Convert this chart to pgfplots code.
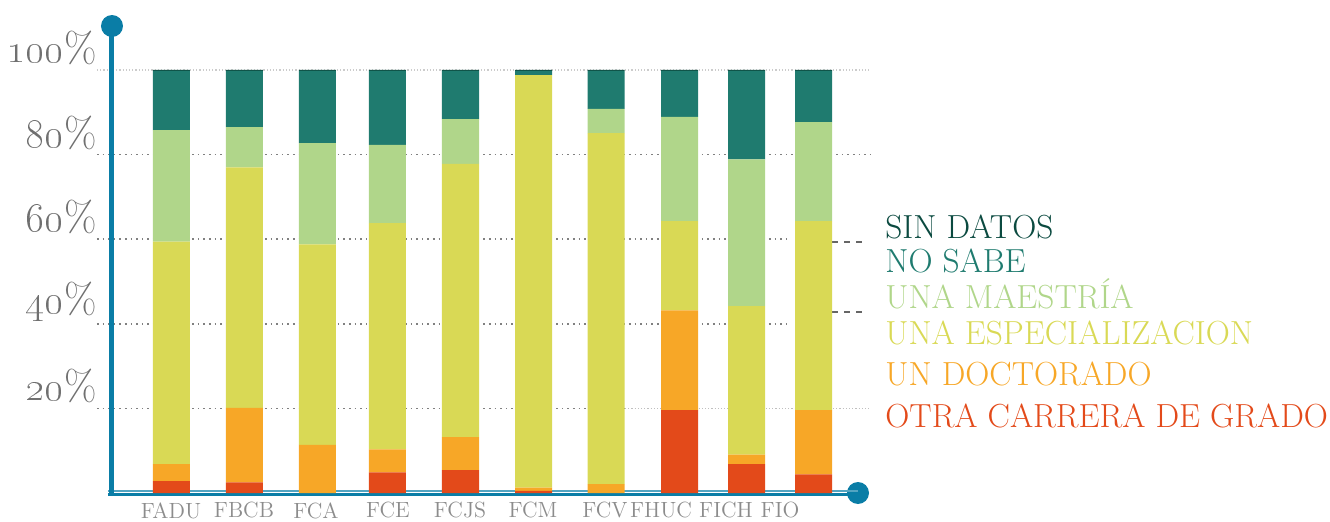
\documentclass[border=0pt]{standalone}
\usepackage{pgfplots}
\pgfplotsset{compat=1.18}
\usepackage{pgfplotstable}

\definecolor{sd}{HTML}{0E4F44}
\definecolor{ns}{HTML}{1F7B6F}
\definecolor{ma}{HTML}{B0D68A}
\definecolor{es}{HTML}{D9D955}
\definecolor{dc}{HTML}{F7A727}
\definecolor{oc}{HTML}{E34A1A}
\definecolor{ax}{HTML}{0A7DA6}
\definecolor{sdtxt}{HTML}{0B4A40}
\definecolor{ylab}{HTML}{707070}
\definecolor{xlab}{HTML}{8C8C8C}

% x = bar centre in pixels, values in percent
\pgfplotstableread{
x     otra  doc   esp   mae   ns    sd
171.5 2.8   4.0   52.6  26.4  14.0  0.2
244.5 2.5   17.6  56.9  9.5   13.3  0.2
317.5 0.0   11.4  47.4  23.9  17.1  0.2
387.5 4.9   5.4   53.5  18.5  17.5  0.2
460.5 5.4   7.8   64.6  10.6  11.4  0.2
533.5 0.5   0.8   97.5  0.0   1.0   0.2
606.0 0.0   2.1   83.0  5.7   9.0   0.2
679.5 19.6  23.6  21.1  24.6  10.9  0.2
746.5 6.8   2.3   35.1  34.7  20.9  0.2
813.5 4.4   15.2  44.7  23.4  12.1  0.2
}\datatable

\tikzset{leg/.style={anchor=base west, inner sep=0pt, font=\fontsize{16.7}{16.7}\selectfont}}
\pgfplotsset{frame/.style={x=0.5pt, y=2.115pt, xmin=97, xmax=870, ymin=0, ymax=100, clip=false}}

\begin{document}
\begin{tikzpicture}
% background axis: grid lines only
\begin{axis}[frame, hide axis]
\addplot[draw=none, forget plot] coordinates {(97,0) (870,100)};
\draw[gray!40, densely dotted, line width=0.6pt] (axis cs:97,100) -- (axis cs:870,100);
\draw[gray, dotted, line width=0.8pt] (axis cs:97,80) -- (axis cs:870,80);
\draw[gray, dotted, line width=0.8pt] (axis cs:97,60) -- (axis cs:790,60);
\draw[gray, dotted, line width=0.8pt] (axis cs:97,40) -- (axis cs:790,40);
\draw[gray, dotted, line width=0.8pt] (axis cs:97,20) -- (axis cs:625,20);
\draw[gray!50, densely dotted, line width=0.6pt] (axis cs:625,20) -- (axis cs:870,20);
\end{axis}

\begin{axis}[
  frame,
  axis line style={draw=none},
  tick style={draw=none},
  ybar stacked,
  bar width=18.5pt,
  ytick={20,40,60,80,100},
  yticklabels={\oldstylenums{20}\%,\oldstylenums{40}\%,\oldstylenums{60}\%,\oldstylenums{80}\%,\oldstylenums{100}\%},
  yticklabel style={anchor=east, inner sep=0pt, yshift=11pt, text=ylab, font=\fontsize{21}{21}\selectfont},
  xtick={171,244,316,388,460,533,605,661,726,780},
  xticklabels={FADU,FBCB,FCA,FCE,FCJS,FCM,FCV,FHUC,FICH,FIO},
  xticklabel style={anchor=north, inner sep=0pt, yshift=-4.5pt, text=xlab, font=\fontsize{11}{11}\selectfont},
]
\addplot[fill=oc, draw=none] table[x=x, y=otra] {\datatable};
\addplot[fill=dc, draw=none] table[x=x, y=doc] {\datatable};
\addplot[fill=es, draw=none] table[x=x, y=esp] {\datatable};
\addplot[fill=ma, draw=none] table[x=x, y=mae] {\datatable};
\addplot[fill=ns, draw=none] table[x=x, y=ns] {\datatable};
\addplot[fill=sd, draw=none] table[x=x, y=sd] {\datatable};

\draw[gray!80!black, dashed, line width=0.7pt] (axis cs:832,59.3) -- (axis cs:866,59.3);
\draw[gray!80!black, dashed, line width=0.7pt] (axis cs:832,42.8) -- (axis cs:866,42.8);

% axis lines with end dots
\draw[ax, line width=2.5pt] (axis cs:112,-0.5) -- (axis cs:112,110.4);
\fill[ax] (axis cs:112,110.4) circle[radius=5.5pt];
\draw[ax!70, line width=1pt] (axis cs:108,0.45) -- (axis cs:858,0.45);
\draw[ax, line width=1.4pt] (axis cs:108,-0.3) -- (axis cs:858,-0.3);
\fill[ax] (axis cs:858,0) circle[radius=5.5pt];

% legend text
\node[leg, text=sdtxt] at (axis cs:885,60.28) {SIN DATOS};
\node[leg, text=ns]    at (axis cs:885,52.01) {NO SABE};
\node[leg, text=ma]    at (axis cs:885,43.50) {UNA MAESTRÍA};
\node[leg, text=es]    at (axis cs:885,34.99) {UNA ESPECIALIZACION};
\node[leg, text=dc]    at (axis cs:885,25.53) {UN DOCTORADO};
\node[leg, text=oc]    at (axis cs:885,15.60) {OTRA CARRERA DE GRADO};

\coordinate (bbll) at (axis cs:0,-6.62);
\coordinate (bbur) at (axis cs:1330,116.55);
\end{axis}
\pgfresetboundingbox
\path[use as bounding box] (bbll) rectangle (bbur);
\end{tikzpicture}
\end{document}
